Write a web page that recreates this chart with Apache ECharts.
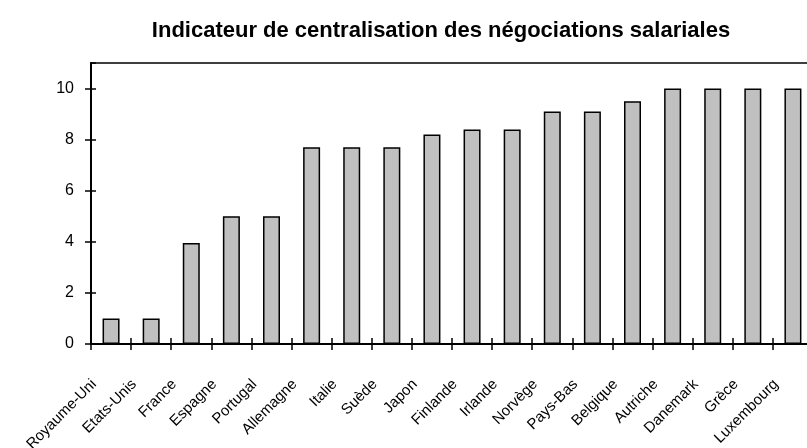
<!DOCTYPE html>
<html><head><meta charset="utf-8">
<script src="https://cdn.jsdelivr.net/npm/echarts@6/dist/echarts.min.js"></script>
<style>html,body{margin:0;padding:0;background:#fff}#c{width:807px;height:448px}</style>
</head><body><div id="c"></div>
<script>
const titleText = 'Indicateur de centralisation des négociations salariales';
const countries = ['Royaume-Uni','Etats-Unis','France','Espagne','Portugal','Allemagne','Italie','Suède','Japon','Finlande','Irlande','Norvège','Pays-Bas','Belgique','Autriche','Danemark','Grèce','Luxembourg'];
const values = [1, 1, 3.95, 5, 5, 7.7, 7.7, 7.7, 8.2, 8.4, 8.4, 9.1, 9.1, 9.5, 10, 10, 10, 10];
const yTicks = [0, 2, 4, 6, 8, 10];

const chart = echarts.init(document.getElementById('c'), null, {renderer: 'canvas'});
const font = 'Arial, "Liberation Sans", sans-serif';
chart.setOption({
  animation: false,
  backgroundColor: '#fff',
  title: {
    text: titleText, left: 436, top: 15, textAlign: 'center',
    textStyle: {fontFamily: font, fontWeight: 'bold', fontSize: 22, color: '#000'}
  },
  grid: {left: 91, top: 63, width: 722, height: 281, outerBoundsMode: 'none', containLabel: false,
    show: true, borderColor: '#000', borderWidth: 1.5, backgroundColor: 'transparent'},
  xAxis: [{
    type: 'category', data: countries, position: 'bottom',
    axisLine: {lineStyle: {color: '#000', width: 2}},
    axisTick: {show: true, interval: 0, length: 6, lineStyle: {color: '#000', width: 1.5}},
    axisLabel: {rotate: 45, interval: 0, margin: 21, padding: [0, 24, 0, 0],
      fontFamily: font, fontSize: 15, color: '#000'}
  }, {
    type: 'category', data: countries, position: 'bottom', gridIndex: 0,
    axisLine: {show: true, lineStyle: {color: 'rgba(0,0,0,0)', width: 0}},
    axisTick: {show: true, interval: 0, inside: true, length: 6, lineStyle: {color: '#000', width: 1.5}},
    axisLabel: {show: false}
  }],
  yAxis: [{
    type: 'value', min: 0, max: 11, interval: 2, position: 'left',
    axisLine: {show: true, lineStyle: {color: '#000', width: 2}},
    axisTick: {show: true, length: 6, customValues: yTicks, lineStyle: {color: '#000', width: 1.5}},
    axisLabel: {customValues: yTicks, margin: 17, fontFamily: font, fontSize: 16, color: '#000'},
    splitLine: {show: false}
  }, {
    type: 'value', min: 0, max: 11, interval: 2, position: 'left', offset: 0,
    axisLine: {show: true, lineStyle: {color: 'rgba(0,0,0,0)', width: 0}},
    axisTick: {show: true, inside: true, length: 5, lineStyle: {color: '#000', width: 1.5}},
    axisLabel: {show: false},
    splitLine: {show: false}
  }],
  series: [{
    type: 'bar', data: values, xAxisIndex: 0, yAxisIndex: 0,
    barWidth: 17,
    itemStyle: {color: '#c0c0c0', borderColor: '#000', borderWidth: 1.5}
  }]
});
</script></body></html>
